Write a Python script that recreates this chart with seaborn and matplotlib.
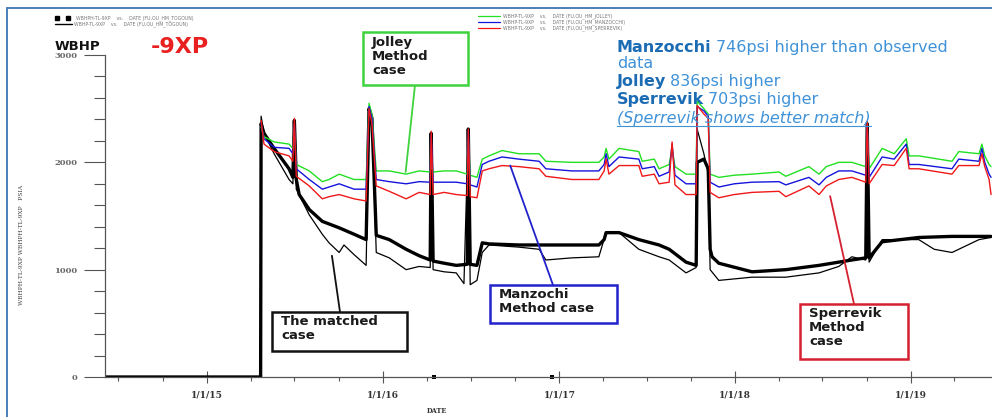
import matplotlib
matplotlib.use("Agg")
import matplotlib.pyplot as plt
import matplotlib.dates as mdates
from matplotlib.patches import Rectangle
from matplotlib.lines import Line2D
from matplotlib.ticker import MultipleLocator, FuncFormatter
import seaborn as sns
import pandas as pd

# ---------------- data ----------------
# simulation cases (Jolley / Manzocchi / Sperrevik) share a date axis
case_dates = [
    "2015-04-23", "2015-04-29", "2015-05-20", "2015-06-20", "2015-06-28", "2015-07-01",
    "2015-07-05", "2015-08-01", "2015-08-28", "2015-09-11", "2015-10-02", "2015-11-02",
    "2015-11-27", "2015-12-03", "2015-12-09", "2015-12-18", "2016-01-14", "2016-02-18",
    "2016-03-16", "2016-04-08", "2016-04-10", "2016-04-14", "2016-05-07", "2016-06-01",
    "2016-06-24", "2016-06-26", "2016-06-30", "2016-07-14", "2016-07-25", "2016-08-08",
    "2016-09-04", "2016-10-09", "2016-11-20", "2016-12-04", "2017-01-27", "2017-03-24",
    "2017-04-04", "2017-04-08", "2017-04-14", "2017-05-05", "2017-06-15", "2017-06-22",
    "2017-07-17", "2017-07-27", "2017-08-17", "2017-08-23", "2017-08-29", "2017-09-21",
    "2017-10-12", "2017-10-14", "2017-10-28", "2017-11-06", "2017-11-10", "2017-11-28",
    "2017-12-30", "2018-02-05", "2018-04-02", "2018-04-16", "2018-06-03", "2018-06-24",
    "2018-07-09", "2018-08-04", "2018-08-31", "2018-09-29", "2018-10-02", "2018-10-06",
    "2018-11-02", "2018-11-27", "2018-12-22", "2018-12-28", "2019-01-17", "2019-03-27",
    "2019-04-10", "2019-05-22", "2019-05-28", "2019-06-03", "2019-06-12", "2019-06-16",
]
jolley = [
    2330, 2240, 2190, 2170, 2130, 2310, 1980, 1920, 1820, 1840, 1890, 1840,
    1840, 2550, 2450, 1920, 1920, 1890, 1920, 1910, 1980, 1910, 1920, 1920,
    1890, 2220, 1880, 1860, 2030, 2060, 2110, 2080, 2080, 2010, 2000, 2000,
    2050, 2130, 2030, 2130, 2100, 2010, 2030, 1940, 1980, 2130, 1960, 1890,
    1890, 2570, 2500, 2450, 1890, 1860, 1880, 1890, 1910, 1870, 1960, 1890,
    1960, 2000, 2000, 1960, 2310, 1940, 2130, 2080, 2220, 2060, 2060, 2010,
    2100, 2080, 2170, 2060, 1980, 1960,
]
manzocchi = [
    2360, 2220, 2140, 2130, 2080, 2360, 1940, 1840, 1750, 1770, 1800, 1750,
    1750, 2520, 2410, 1840, 1820, 1800, 1820, 1815, 2260, 1815, 1815, 1815,
    1800, 2295, 1790, 1770, 1980, 2010, 2050, 2030, 2010, 1940, 1920, 1920,
    1980, 2080, 1960, 2050, 2030, 1940, 1960, 1870, 1910, 2170, 1880, 1800,
    1800, 2520, 2480, 2430, 1815, 1770, 1800, 1815, 1820, 1790, 1860, 1790,
    1860, 1920, 1920, 1880, 2360, 1860, 2050, 2030, 2170, 1980, 1980, 1940,
    2030, 2010, 2130, 2000, 1890, 1860,
]
sperrevik = [
    2390, 2170, 2100, 2060, 2010, 2410, 1870, 1780, 1660, 1680, 1700, 1660,
    1640, 2500, 2360, 1780, 1730, 1660, 1720, 1700, 2290, 1700, 1720, 1700,
    1690, 2310, 1680, 1670, 1920, 1940, 1970, 1960, 1940, 1870, 1840, 1840,
    1920, 2030, 1890, 1970, 1970, 1870, 1890, 1800, 1815, 2190, 1790, 1700,
    1700, 2530, 2450, 2410, 1720, 1670, 1700, 1720, 1730, 1680, 1780, 1700,
    1780, 1840, 1860, 1815, 2380, 1800, 1980, 1970, 2130, 1940, 1940, 1890,
    1970, 1970, 2080, 1960, 1840, 1700,
]

# observed data (thick black)
obs_dates = [
    "2014-06-03", "2015-04-22", "2015-04-23", "2015-04-29", "2015-05-20", "2015-06-20",
    "2015-06-28", "2015-07-01", "2015-07-05", "2015-07-11", "2015-08-01", "2015-08-28",
    "2015-10-02", "2015-11-02", "2015-11-27", "2015-12-03", "2015-12-09", "2015-12-18",
    "2016-01-14", "2016-02-18", "2016-03-16", "2016-04-08", "2016-04-10", "2016-04-14",
    "2016-05-07", "2016-06-01", "2016-06-24", "2016-06-26", "2016-06-30", "2016-07-14",
    "2016-07-25", "2016-08-08", "2016-10-09", "2017-03-24", "2017-04-04", "2017-04-08",
    "2017-05-05", "2017-06-15", "2017-07-27", "2017-08-17", "2017-09-21", "2017-10-12",
    "2017-10-14", "2017-10-28", "2017-11-06", "2017-11-10", "2017-11-14", "2017-11-28",
    "2018-02-05", "2018-04-16", "2018-06-24", "2018-08-31", "2018-09-29", "2018-10-02",
    "2018-10-06", "2018-11-02", "2019-01-17", "2019-03-27", "2019-06-16",
]
observed = [
    0, 0, 2360, 2270, 2130, 1940,
    1860, 2390, 1840, 1700, 1560, 1450,
    1390, 1330, 1280, 2500, 2410, 1320,
    1280, 1190, 1130, 1090, 2270, 1080,
    1060, 1040, 1050, 2310, 1050, 1040,
    1250, 1240, 1230, 1230, 1280, 1345,
    1345, 1280, 1230, 1190, 1070, 1040,
    2000, 2030, 1940, 1190, 1120, 1060,
    980, 1000, 1040, 1090, 1110, 2360,
    1110, 1260, 1300, 1310, 1310,
]

# history-matched case (thin black)
match_dates = [
    "2014-06-03", "2015-04-22", "2015-04-23", "2015-04-29", "2015-05-20", "2015-06-20",
    "2015-06-28", "2015-07-01", "2015-07-05", "2015-08-01", "2015-08-28", "2015-09-11",
    "2015-10-02", "2015-10-12", "2015-11-02", "2015-11-27", "2015-12-03", "2015-12-09",
    "2015-12-18", "2016-01-14", "2016-02-18", "2016-03-16", "2016-04-08", "2016-04-10",
    "2016-04-14", "2016-05-07", "2016-06-01", "2016-06-17", "2016-06-26", "2016-06-30",
    "2016-07-14", "2016-07-25", "2016-08-08", "2016-10-09", "2016-11-20", "2016-12-04",
    "2017-01-27", "2017-03-24", "2017-04-08", "2017-05-05", "2017-06-15", "2017-07-27",
    "2017-08-17", "2017-09-21", "2017-10-12", "2017-10-14", "2017-10-28", "2017-11-06",
    "2017-11-10", "2017-11-28", "2018-02-05", "2018-04-16", "2018-06-24", "2018-08-04",
    "2018-08-31", "2018-09-29", "2018-10-02", "2018-10-06", "2018-11-02", "2019-01-17",
    "2019-02-18", "2019-03-27", "2019-05-22", "2019-06-16",
]
matched = [
    0, 0, 2430, 2270, 2080, 1840,
    1800, 2390, 1750, 1510, 1330, 1250,
    1160, 1230, 1140, 1040, 2500, 2430,
    1160, 1110, 1000, 1030, 1020, 2270,
    1000, 980, 970, 870, 2310, 860,
    900, 1160, 1230, 1210, 1190, 1090,
    1110, 1120, 1345, 1345, 1190, 1120,
    1090, 970, 1020, 2310, 2080, 1890,
    1000, 900, 930, 930, 970, 1030,
    1120, 1090, 2310, 1070, 1280, 1280,
    1190, 1160, 1280, 1300,
]

# isolated observed points on the zero line
zero_dates = ["2016-04-16", "2016-12-17"]
zero_vals = [0, 0]

y_ticks = [0, 1000, 2000, 3000]
x_start, x_end = "2014-06-03", "2019-06-18"

# ---------------- figure ----------------
sns.set_theme(style="white")
plt.rcParams["font.family"] = ["DejaVu Sans"]

W, H = 992, 417
fig = plt.figure(figsize=(W / 100, H / 100), dpi=100)
fig.patch.set_facecolor("white")


def fx(x):
    return x / W


def fy(y):
    return 1 - y / H


ax = fig.add_axes([fx(105), fy(377), (W - 105) / W, (377 - 55) / H])
ax.set_facecolor("white")

cd = pd.to_datetime(case_dates)
sns.lineplot(x=pd.to_datetime(obs_dates), y=observed, ax=ax, color="black",
             lw=2.4, sort=False, estimator=None)
sns.lineplot(x=pd.to_datetime(match_dates), y=matched, ax=ax, color="black",
             lw=0.9, sort=False, estimator=None)
sns.lineplot(x=cd, y=jolley, ax=ax, color="#22e022", lw=1.0, sort=False, estimator=None)
sns.lineplot(x=cd, y=manzocchi, ax=ax, color="#1414dc", lw=1.0, sort=False, estimator=None)
sns.lineplot(x=cd, y=sperrevik, ax=ax, color="#f01818", lw=1.0, sort=False, estimator=None)
sns.scatterplot(x=pd.to_datetime(zero_dates), y=zero_vals, ax=ax, color="black",
                marker="s", s=10, linewidth=0, clip_on=False)

ax.set_xlim(pd.Timestamp(x_start), pd.Timestamp(x_end))
ax.set_ylim(0, 3000)
ax.set_xlabel("")
ax.set_ylabel("")
for s in ["top", "right"]:
    ax.spines[s].set_visible(False)
for s in ["left", "bottom"]:
    ax.spines[s].set_color("#555555")
    ax.spines[s].set_linewidth(0.9)

ax.set_yticks(y_ticks)
ax.yaxis.set_minor_locator(MultipleLocator(200))
ax.yaxis.set_major_formatter(FuncFormatter(lambda v, p: f"{int(v)}"))
ax.xaxis.set_major_locator(mdates.YearLocator())
ax.xaxis.set_minor_locator(mdates.MonthLocator(bymonth=[4, 7, 10]))
ax.xaxis.set_major_formatter(FuncFormatter(
    lambda v, p: (lambda d: f"{d.month}/{d.day}/{d.year % 100}")(mdates.num2date(v))))

ax.tick_params(axis="both", which="both", left=True, bottom=True, colors="#555555")
ax.tick_params(axis="y", which="major", direction="out", length=15, width=0.8,
               labelsize=6, pad=5, labelcolor="#666666")
ax.tick_params(axis="y", which="minor", direction="out", length=8, width=0.8)
ax.tick_params(axis="x", which="major", direction="inout", length=8, width=0.8,
               labelsize=6.5, pad=6, labelcolor="#333333")
ax.tick_params(axis="x", which="minor", direction="out", length=3, width=0.8)
for lab in ax.get_xticklabels() + ax.get_yticklabels():
    lab.set_family("DejaVu Serif")
    lab.set_fontweight("bold")

# axis titles
fig.text(fx(22), fy(245), "WBHPH-TL-9XP WBHPH-TL-9XP   PSIA", rotation=90,
         fontsize=4.3, ha="center", va="center", color="#444444", family="DejaVu Serif")
fig.text(fx(437), fy(411), "DATE", fontsize=4.8, ha="center", va="center",
         color="#333333", family="DejaVu Serif", fontweight="bold")

# headline labels
fig.text(fx(55), fy(50), "WBHP", fontsize=9.5, fontweight="bold", color="#111111",
         ha="left", va="baseline")
fig.text(fx(151), fy(53), "-9XP", fontsize=16, fontweight="bold", color="#e82020",
         ha="left", va="baseline")

# tiny legends
leg_c = "#777777"
fig.add_artist(Line2D([fx(57), fx(68)], [fy(18), fy(18)], color="black", lw=0,
                      marker="s", markersize=2.2, transform=fig.transFigure))
fig.text(fx(76), fy(18), "WBHPH-TL-9XP    vs.    DATE (FU,OU_HM_TOGOUN)", fontsize=3.3,
         color=leg_c, va="center", ha="left")
fig.add_artist(Line2D([fx(55), fx(72)], [fy(24), fy(24)], color="black", lw=1.0,
                      transform=fig.transFigure))
fig.text(fx(74), fy(24), "WBHP-TL-9XP    vs.    DATE (FU,OU_HM_TOGOUN)", fontsize=3.3,
         color=leg_c, va="center", ha="left")
for yy, col, nm in [(16, "#22e022", "JOLLEY"), (22, "#1414dc", "MANZOCCHI"),
                    (28, "#f01818", "SPERREVIK")]:
    fig.add_artist(Line2D([fx(478), fx(500)], [fy(yy), fy(yy)], color=col, lw=0.9,
                          transform=fig.transFigure))
    fig.text(fx(503), fy(yy), f"WBHP-TL-9XP    vs.    DATE (FU,OU_HM_{nm})", fontsize=3.3,
             color=leg_c, va="center", ha="left")

# annotation boxes with leader lines
boxes = [
    # (x0, y0, x1, y1, colour, text, text y, leader start, target date, target psi)
    (363, 32, 468, 85, "#3fd23f", "Jolley\nMethod\ncase", 36, (415, 85), "2016-02-17", 1910),
    (490, 285, 617, 323, "#2222cc", "Manzochi\nMethod case", 288, (553, 285), "2016-09-21", 1970),
    (272, 312, 407, 351, "#111111", "The matched\ncase", 315, (340, 312), "2015-09-17", 1130),
    (800, 304, 908, 359, "#d42030", "Sperrevik\nMethod\ncase", 307, (854, 304), "2018-07-17", 1685),
]
for x0, y0, x1, y1, col, txt, ty, (lx, ly), tdate, tval in boxes:
    fig.add_artist(Rectangle((fx(x0), fy(y1)), fx(x1) - fx(x0), fy(y0) - fy(y1),
                             transform=fig.transFigure, facecolor="white",
                             edgecolor=col, lw=1.8, zorder=5))
    fig.text(fx(x0 + 9), fy(ty), txt, fontsize=9.5, fontweight="bold", color="#1a1a1a",
             ha="left", va="top", linespacing=1.1, zorder=6)
    ax.annotate("", xy=(mdates.date2num(pd.Timestamp(tdate)), tval), xycoords="data",
                xytext=(fx(lx), fy(ly)), textcoords="figure fraction",
                arrowprops=dict(arrowstyle="-", color=col, lw=1.3,
                                shrinkA=0, shrinkB=0), annotation_clip=False)

# rich text block (top right)
renderer = fig.canvas.get_renderer()
dark_b = "#1c6cb4"
light_b = "#3f92d8"
FS = 11.5


def rich(xp, yp, parts, underline=False):
    x = xp
    for txt, weight, style, col in parts:
        t = fig.text(fx(x), fy(yp), txt, fontsize=FS, fontweight=weight, fontstyle=style,
                     color=col, ha="left", va="baseline", zorder=7)
        bb = t.get_window_extent(renderer)
        if underline:
            fig.add_artist(Line2D([fx(x), fx(x + bb.width)], [fy(yp + 3), fy(yp + 3)],
                                  color=col, lw=0.8, transform=fig.transFigure))
        x += bb.width + 4


rich(617, 52, [("Manzocchi", "bold", "normal", dark_b),
               ("746psi higher than observed", "normal", "normal", light_b)])
rich(617, 68, [("data", "normal", "normal", light_b)])
rich(617, 86, [("Jolley", "bold", "normal", dark_b),
               ("836psi higher", "normal", "normal", light_b)])
rich(617, 104, [("Sperrevik", "bold", "normal", dark_b),
                ("703psi higher", "normal", "normal", light_b)])
rich(617, 123, [("(Sperrevik shows better match)", "normal", "italic", light_b)],
     underline=True)

# outer frame (blue border on top and left)
fig.add_artist(Line2D([fx(7), fx(7)], [fy(8), 0], color="#4a80b8", lw=1.4,
                      transform=fig.transFigure))
fig.add_artist(Line2D([fx(7), 1], [fy(8), fy(8)], color="#4a80b8", lw=1.4,
                      transform=fig.transFigure))

fig.savefig("out.png", dpi=100, facecolor="white")
